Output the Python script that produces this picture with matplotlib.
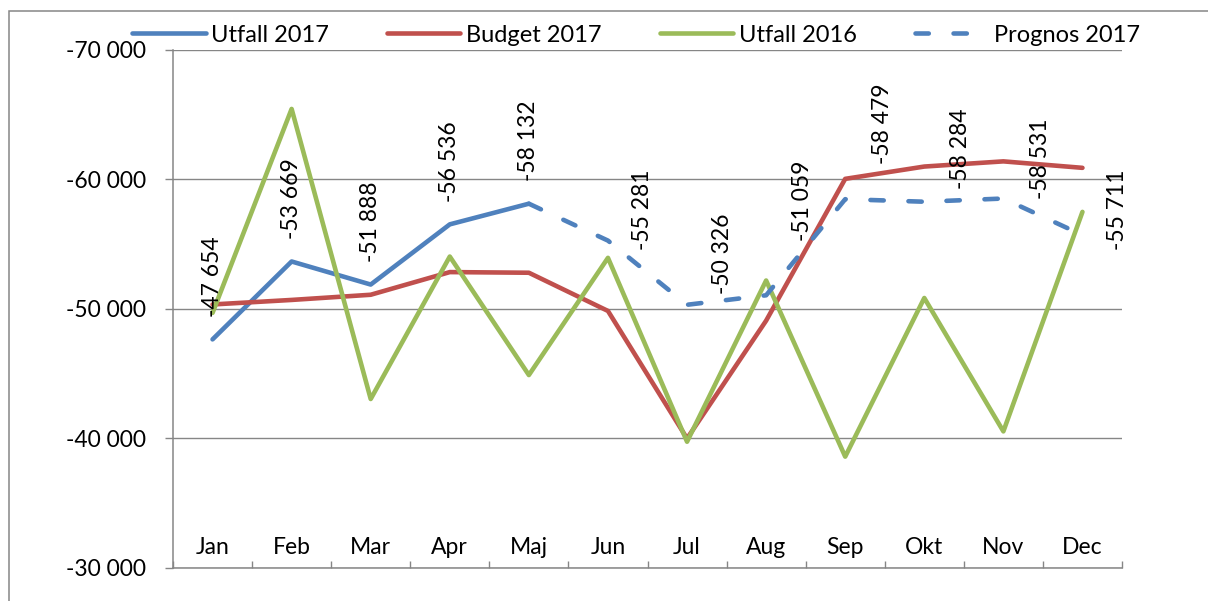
import matplotlib.pyplot as plt
from matplotlib.patches import Rectangle
from matplotlib.ticker import FuncFormatter

plt.rcParams['font.family'] = ['Lato', 'DejaVu Sans']

# data
months = ['Jan', 'Feb', 'Mar', 'Apr', 'Maj', 'Jun', 'Jul', 'Aug', 'Sep', 'Okt', 'Nov', 'Dec']
utfall_2017 = [-47654, -53669, -51888, -56536, -58132]                      # Jan - Maj
prognos_2017 = [-58132, -55281, -50326, -51059, -58479, -58284, -58531, -55711]  # Maj - Dec
prognos_start = 4
budget_2017 = [-50350, -50700, -51100, -52850, -52800, -49850, -40000, -49100,
               -60050, -61000, -61400, -60900]
utfall_2016 = [-49700, -65450, -43050, -54050, -44900, -53950, -39750, -52200,
               -38600, -50850, -40550, -57500]

# label offsets in pixels (dx, dy) from each point
utfall_label_off = [(0, 63)] * 5
prognos_label_off = [None, (35, 31), (35, 51), (36, 94), (37, 75), (36, 53), (37, 40), (35, 25)]

blue = '#4F81BD'
red = '#C0504D'
green = '#9BBB59'
grey = '#868686'
fs = 16.5
lw = 3.3

fig = plt.figure(figsize=(12.08, 6.01), dpi=100)
ax = fig.add_axes([173 / 1208, 1 - 568 / 601, (1122 - 173) / 1208, (568 - 50) / 601])

x_utfall = list(range(len(utfall_2017)))
x_prognos = list(range(prognos_start, prognos_start + len(prognos_2017)))
x_all = list(range(len(months)))

ax.plot(x_utfall, utfall_2017, color=blue, lw=lw, solid_capstyle='round',
        solid_joinstyle='round', label='Utfall 2017', zorder=3)
ax.plot(x_all, budget_2017, color=red, lw=lw, solid_capstyle='round',
        solid_joinstyle='round', label='Budget 2017', zorder=3)
ax.plot(x_all, utfall_2016, color=green, lw=lw, solid_capstyle='round',
        solid_joinstyle='round', label='Utfall 2016', zorder=3)
ax.plot(x_prognos, prognos_2017, color=blue, lw=lw, linestyle=(0, (2.9, 5.4)),
        dash_capstyle='round', dash_joinstyle='round', label='Prognos 2017', zorder=3)


def fmt(v):
    return f"{v:,.0f}".replace(",", " ")


for xi, v, off in zip(x_utfall, utfall_2017, utfall_label_off):
    ax.annotate(fmt(v), (xi, v), xytext=off, textcoords='offset pixels',
                rotation=90, ha='center', va='center', fontsize=fs, zorder=5)
for xi, v, off in zip(x_prognos, prognos_2017, prognos_label_off):
    if off is None:
        continue
    ax.annotate(fmt(v), (xi, v), xytext=off, textcoords='offset pixels',
                rotation=90, ha='center', va='center', fontsize=fs, zorder=5)

ax.set_xlim(-0.5, 11.5)
ax.set_ylim(-30000, -70000)
ax.set_yticks(range(-70000, -29999, 10000))
ax.yaxis.set_major_formatter(FuncFormatter(lambda v, p: fmt(v)))
ax.grid(axis='y', color=grey, lw=1)
ax.set_axisbelow(True)

for s in ['top', 'right']:
    ax.spines[s].set_visible(False)
for s in ['left', 'bottom']:
    ax.spines[s].set_color(grey)
    ax.spines[s].set_linewidth(1.1)

ax.tick_params(axis='y', length=5.8, width=1, color=grey, pad=13.5, labelsize=fs)
ax.set_xticks(x_all)
ax.set_xticklabels(months)
ax.set_xticks([i - 0.5 for i in range(len(months) + 1)], minor=True)
ax.tick_params(axis='x', which='major', length=0, pad=-22, labelsize=fs)
ax.tick_params(axis='x', which='minor', direction='in', length=5, width=1, color=grey)

ax.legend(loc='center', bbox_to_anchor=(636 / 1208, 1 - 35 / 601),
          bbox_transform=fig.transFigure, ncol=4, frameon=False,
          handlelength=3.1, handletextpad=0.25, columnspacing=2.45,
          fontsize=17, borderaxespad=0, borderpad=0)

# outer chart border (cropped on the right and bottom)
fig.add_artist(Rectangle((9 / 1208, -0.1), 1.2, 1.1 - 11 / 601, transform=fig.transFigure,
                         fill=False, edgecolor=grey, lw=1.1))

fig.savefig('out.png', dpi=100)
